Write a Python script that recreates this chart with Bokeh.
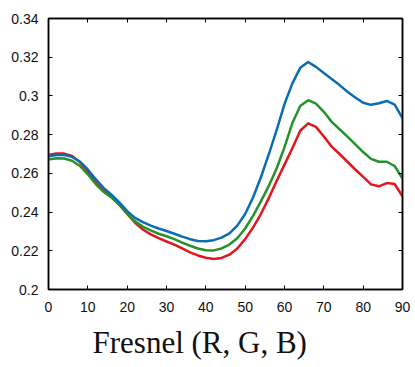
from bokeh.plotting import figure
from bokeh.models import LinearAxis, FixedTicker, Range1d, Title
from bokeh.embed import file_html
from bokeh.resources import INLINE

angle = list(range(0, 92, 2))
blue = [0.2688, 0.2695, 0.2695, 0.2685, 0.2660, 0.2620, 0.2570, 0.2525, 0.2490, 0.2450,
        0.2405, 0.2370, 0.2348, 0.2330, 0.2315, 0.2302, 0.2288, 0.2273, 0.2260, 0.2251,
        0.2249, 0.2255, 0.2268, 0.2290, 0.2330, 0.2390, 0.2475, 0.2580, 0.2698, 0.2823,
        0.2958, 0.3065, 0.3145, 0.3175, 0.3150, 0.3118, 0.3088, 0.3056, 0.3022, 0.2992,
        0.2965, 0.2954, 0.2962, 0.2974, 0.2955, 0.2886]
green = [0.2672, 0.2678, 0.2677, 0.2665, 0.2638, 0.2595, 0.2545, 0.2505, 0.2475, 0.2438,
         0.2392, 0.2352, 0.2325, 0.2305, 0.2288, 0.2275, 0.2260, 0.2242, 0.2226, 0.2212,
         0.2203, 0.2202, 0.2212, 0.2232, 0.2265, 0.2315, 0.2380, 0.2455, 0.2535, 0.2625,
         0.2735, 0.2860, 0.2948, 0.2978, 0.2960, 0.2918, 0.2866, 0.2828, 0.2790, 0.2750,
         0.2710, 0.2675, 0.2660, 0.2660, 0.2638, 0.2573]
red = [0.2695, 0.2703, 0.2702, 0.2690, 0.2658, 0.2608, 0.2552, 0.2510, 0.2478, 0.2438,
       0.2390, 0.2345, 0.2310, 0.2285, 0.2265, 0.2248, 0.2232, 0.2212, 0.2192, 0.2176,
       0.2164, 0.2158, 0.2163, 0.2180, 0.2212, 0.2260, 0.2320, 0.2390, 0.2472, 0.2560,
       0.2645, 0.2730, 0.2820, 0.2858, 0.2840, 0.2790, 0.2738, 0.2700, 0.2660, 0.2620,
       0.2582, 0.2543, 0.2533, 0.2550, 0.2545, 0.2482]

x_ticks = [0, 10, 20, 30, 40, 50, 60, 70, 80, 90]
y_ticks = [0.2, 0.22, 0.24, 0.26, 0.28, 0.3, 0.32, 0.34]
y_tick_labels = ["0.2", "0.22", "0.24", "0.26", "0.28", "0.3", "0.32", "0.34"]
title_text = "Fresnel (R, G, B)"

p = figure(width=415, height=367, output_backend="svg", toolbar_location=None,
           x_range=Range1d(0, 90), y_range=Range1d(0.2, 0.34),
           min_border_left=48, min_border_right=13, min_border_top=18, min_border_bottom=77)
p.grid.visible = False
p.outline_line_color = "black"
p.outline_line_width = 1.5

for ys, col in ((red, "#e3161e"), (green, "#25922b"), (blue, "#0a6cb3")):
    p.line(angle, ys, color=col, line_width=2.5, line_join="round")

def style(ax):
    ax.major_tick_in = 4
    ax.major_tick_out = 0
    ax.minor_tick_in = 0
    ax.minor_tick_out = 0
    ax.axis_line_color = "black"
    ax.axis_line_width = 1.5
    ax.major_tick_line_color = "black"
    ax.major_tick_line_width = 1
    ax.major_label_text_font = "Liberation Sans"
    ax.major_label_text_font_size = "14px"
    ax.major_label_text_color = "#111111"

p.xaxis.ticker = FixedTicker(ticks=x_ticks)
p.yaxis.ticker = FixedTicker(ticks=y_ticks)
p.yaxis.major_label_overrides = {t: l for t, l in zip(y_ticks, y_tick_labels)}
style(p.xaxis[0])
style(p.yaxis[0])
p.xaxis.major_label_standoff = 12
p.yaxis.major_label_standoff = 10

top = LinearAxis(ticker=FixedTicker(ticks=x_ticks))
right = LinearAxis(ticker=FixedTicker(ticks=y_ticks))
for ax, ticks in ((top, x_ticks), (right, y_ticks)):
    style(ax)
    ax.major_label_standoff = 0
    ax.major_label_overrides = {t: "" for t in ticks}
p.add_layout(top, "above")
p.add_layout(right, "right")

p.add_layout(Title(text=title_text, align="left", offset=44, standoff=16,
                   text_font="Liberation Serif", text_font_size="31px",
                   text_font_style="normal", text_color="#111111"), "below")

open("out.html", "w").write(file_html(p, INLINE))
